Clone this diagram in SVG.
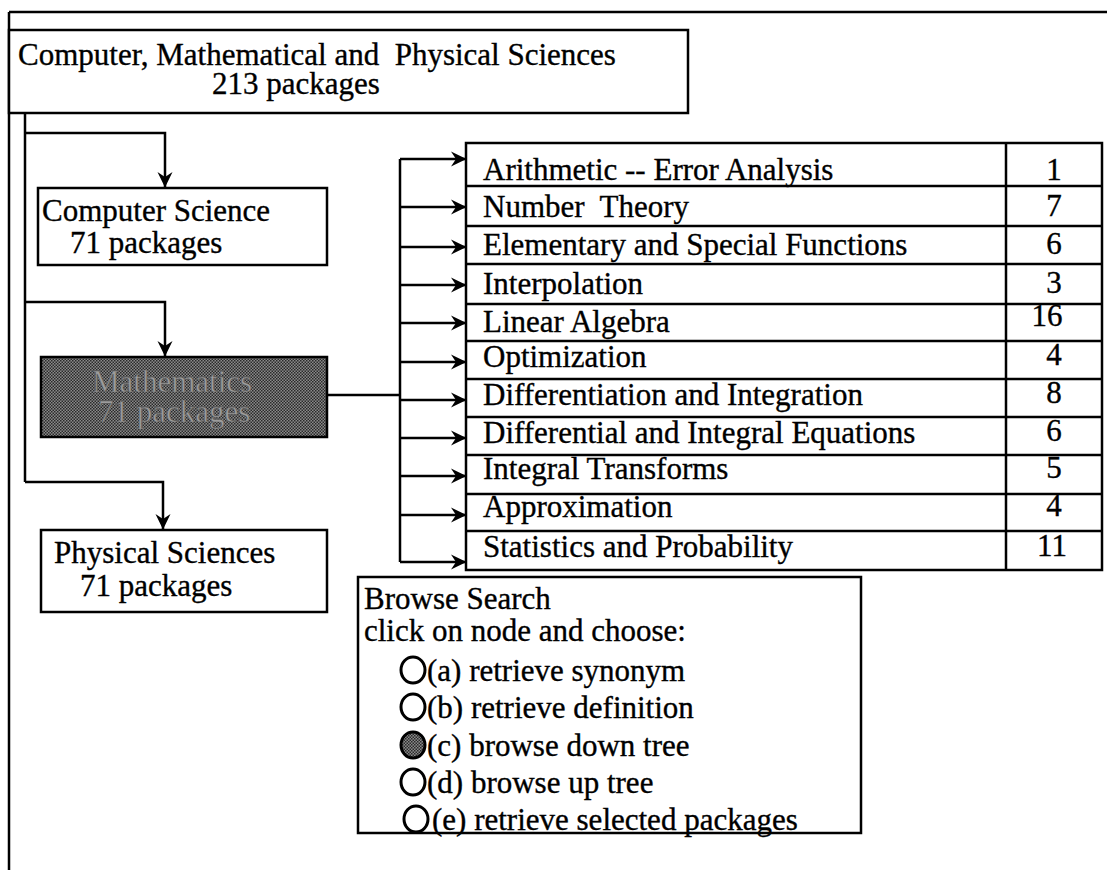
<svg xmlns="http://www.w3.org/2000/svg" width="1107" height="870" viewBox="0 0 1107 870">
  <style>
    text { font-family: "Liberation Serif", "Times New Roman", serif; font-size: 31px; fill: #000; stroke: #000; stroke-width: 0.35; }
    .box { fill: #fff; stroke: #000; stroke-width: 2.5; }
    .line { fill: none; stroke: #000; stroke-width: 2.5; }
    .wire { fill: none; stroke: #000; stroke-width: 2.5; }
    .arrow { fill: none; stroke: #000; stroke-width: 2.5; marker-end: url(#head); }
    .num { text-anchor: middle; }
    .radio { fill: #fff; stroke: #000; stroke-width: 3; }
    .dim { fill: #9c9c9c; stroke: #555; stroke-width: 0.6; }
  </style>
  <defs>
    <marker id="head" viewBox="0 0 16 16" refX="15" refY="8" markerWidth="16" markerHeight="16" markerUnits="userSpaceOnUse" orient="auto">
      <path d="M0,0.5 L15.5,8 L0,15.5 L5,8 Z" fill="#000"/>
    </marker>
    <pattern id="stipple" width="3" height="3" patternUnits="userSpaceOnUse">
      <rect width="3" height="3" fill="#8a8a8a"/>
      <rect width="1.5" height="1.5" fill="#2a2a2a"/>
      <rect x="1.5" y="1.5" width="1.5" height="1.5" fill="#2a2a2a"/>
    </pattern>
  </defs>

  <!-- page frame -->
  <path class="line" d="M9,12 H1107 M9,12 V870"/>

  <!-- connectors -->
  <g id="connectors">
    <path class="wire" d="M25,113 V482"/>
    <path class="arrow" d="M25,133 H165 V187"/>
    <path class="arrow" d="M25,302 H165 V356"/>
    <path class="arrow" d="M25,482 H163 V529"/>
    <path class="wire" d="M327,395 H400"/>
    <path class="wire" d="M400,159 V562"/>
    <path class="arrow" d="M400,159 H466"/>
    <path class="arrow" d="M400,207 H466"/>
    <path class="arrow" d="M400,247 H466"/>
    <path class="arrow" d="M400,285 H466"/>
    <path class="arrow" d="M400,323 H466"/>
    <path class="arrow" d="M400,362 H466"/>
    <path class="arrow" d="M400,400 H466"/>
    <path class="arrow" d="M400,438 H466"/>
    <path class="arrow" d="M400,476 H466"/>
    <path class="arrow" d="M400,515 H466"/>
    <path class="arrow" d="M400,562 H466"/>
  </g>

  <!-- root category -->
  <g id="node-root">
    <rect class="box" x="9" y="30" width="679" height="83"/>
    <text x="18" y="65" xml:space="preserve">Computer, Mathematical and  Physical Sciences</text>
    <text x="212" y="94">213 packages</text>
  </g>

  <g id="node-computer-science">
    <rect class="box" x="38" y="188" width="289" height="77"/>
    <text x="42" y="221">Computer Science</text>
    <text x="70" y="253">71 packages</text>
  </g>

  <g id="node-mathematics">
    <rect x="41" y="357" width="286" height="80" fill="url(#stipple)" stroke="#000" stroke-width="2.5"/>
    <text class="dim" x="92" y="392">Mathematics</text>
    <text class="dim" x="98" y="422">71 packages</text>
  </g>

  <g id="node-physical-sciences">
    <rect class="box" x="41" y="530" width="286" height="82"/>
    <text x="54" y="563">Physical Sciences</text>
    <text x="80" y="596">71 packages</text>
  </g>

  <!-- subcategory table -->
  <g id="node-subcategories">
    <rect class="box" x="466" y="143" width="636" height="427"/>
    <path class="line" d="M1006,143 V570 M466,186 H1102 M466,226 H1102 M466,264 H1102 M466,304 H1102 M466,341 H1102 M466,379 H1102 M466,417 H1102 M466,455 H1102 M466,494 H1102 M466,531 H1102"/>
    <text x="483" y="180">Arithmetic -- Error Analysis</text>
    <text x="483" y="217" xml:space="preserve">Number  Theory</text>
    <text x="483" y="255">Elementary and Special Functions</text>
    <text x="483" y="294">Interpolation</text>
    <text x="483" y="332">Linear Algebra</text>
    <text x="483" y="367">Optimization</text>
    <text x="483" y="405">Differentiation and Integration</text>
    <text x="483" y="443">Differential and Integral Equations</text>
    <text x="483" y="479">Integral Transforms</text>
    <text x="483" y="517">Approximation</text>
    <text x="483" y="557">Statistics and Probability</text>
    <text class="num" x="1054" y="180">1</text>
    <text class="num" x="1054" y="216">7</text>
    <text class="num" x="1054" y="254">6</text>
    <text class="num" x="1054" y="293">3</text>
    <text class="num" x="1047" y="326">16</text>
    <text class="num" x="1054" y="365">4</text>
    <text class="num" x="1054" y="403">8</text>
    <text class="num" x="1054" y="441">6</text>
    <text class="num" x="1054" y="478">5</text>
    <text class="num" x="1054" y="516">4</text>
    <text class="num" x="1052" y="556">11</text>
  </g>

  <!-- browse search panel -->
  <g id="node-browse-search">
    <rect class="box" x="358" y="577" width="503" height="256"/>
    <text x="364" y="609">Browse Search</text>
    <text x="364" y="641">click on node and choose:</text>
    <ellipse class="radio" cx="413" cy="670" rx="12" ry="13"/>
    <text x="427" y="681">(a) retrieve synonym</text>
    <ellipse class="radio" cx="413" cy="707" rx="12" ry="13"/>
    <text x="427" y="718">(b) retrieve definition</text>
    <ellipse cx="413" cy="745" rx="12" ry="13" fill="url(#stipple)" stroke="#000" stroke-width="3"/>
    <text x="427" y="756">(c) browse down tree</text>
    <ellipse class="radio" cx="413" cy="782" rx="12" ry="13"/>
    <text x="427" y="793">(d) browse up tree</text>
    <ellipse class="radio" cx="416" cy="819" rx="12" ry="13"/>
    <text x="432" y="830">(e) retrieve selected packages</text>
  </g>
</svg>
